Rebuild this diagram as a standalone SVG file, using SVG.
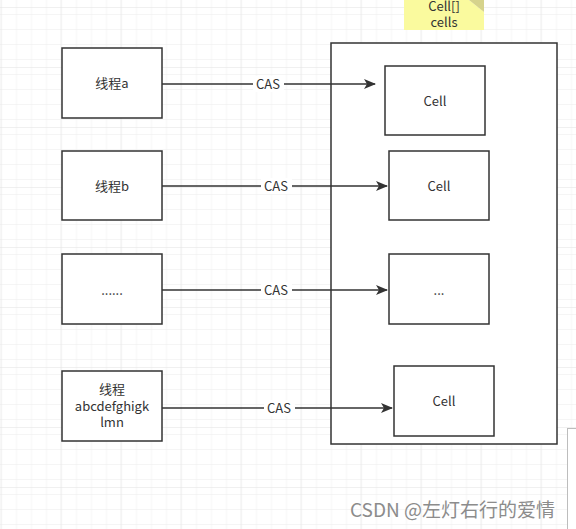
<svg xmlns="http://www.w3.org/2000/svg" width="576" height="529" viewBox="0 0 576 529">
<style>
.box{fill:#fff;stroke:#333;stroke-width:1.5}
.t{font-family:"Noto Sans CJK SC","Liberation Sans",sans-serif;font-size:13px;fill:#333;text-anchor:middle;dominant-baseline:central}
.edge{stroke:#333;stroke-width:1.5;fill:none}
.lbl{fill:#fff}
</style>
<defs>
<pattern id="minor" width="15" height="15" patternUnits="userSpaceOnUse" x="0.5" y="7">
<path d="M15 0H0V15" fill="none" stroke="#ececec" stroke-width="1"/>
</pattern>
<pattern id="major" width="60" height="60" patternUnits="userSpaceOnUse" x="0.5" y="7">
<rect width="60" height="60" fill="url(#minor)"/>
<path d="M60 0H0V60" fill="none" stroke="#e2e2e2" stroke-width="1"/>
</pattern>
<marker id="arr" markerWidth="12" markerHeight="10" refX="11" refY="5" orient="auto" markerUnits="userSpaceOnUse">
<path d="M0 0L12 5L0 10L3 5Z" fill="#333"/>
</marker>
</defs>
<rect width="576" height="529" fill="#fff"/>
<rect width="576" height="529" fill="url(#major)"/>

<g id="note">
<path d="M404 0H469L484 12V30H404Z" fill="#fafa9e"/>
<path d="M469 0L484 12V0Z" fill="#d6d38c"/>
<text class="t" x="444" y="5">Cell[]</text>
<text class="t" x="444" y="21">cells</text>
</g>

<g id="container">
<rect class="box" x="331" y="43" width="226" height="401"/>
</g>

<g id="thread-a"><rect class="box" x="62" y="48" width="100" height="70"/><text class="t" x="112" y="82">线程a</text></g>
<g id="thread-b"><rect class="box" x="62" y="151" width="100" height="69"/><text class="t" x="112" y="185">线程b</text></g>
<g id="thread-dots"><rect class="box" x="62" y="254" width="100" height="70"/><text class="t" x="112" y="289">......</text></g>
<g id="thread-n"><rect class="box" x="62" y="371" width="100" height="70"/>
<text class="t" x="112" y="388">线程</text><text class="t" x="112" y="405">abcdefghigk</text><text class="t" x="112" y="421">lmn</text></g>

<g id="cell1"><rect class="box" x="385" y="66" width="100" height="69"/><text class="t" x="435" y="100">Cell</text></g>
<g id="cell2"><rect class="box" x="389" y="151" width="100" height="69"/><text class="t" x="439" y="185">Cell</text></g>
<g id="cell3"><rect class="box" x="389" y="254" width="100" height="70"/><text class="t" x="439" y="289">...</text></g>
<g id="cell4"><rect class="box" x="394" y="366" width="100" height="70"/><text class="t" x="444" y="400">Cell</text></g>

<g id="connectors">
<line class="edge" x1="162" y1="84" x2="375" y2="84" marker-end="url(#arr)"/>
<line class="edge" x1="162" y1="186" x2="387" y2="186" marker-end="url(#arr)"/>
<line class="edge" x1="162" y1="290" x2="387" y2="290" marker-end="url(#arr)"/>
<line class="edge" x1="162" y1="408" x2="392" y2="408" marker-end="url(#arr)"/>
<rect class="lbl" x="253" y="76" width="31" height="16"/><text class="t" x="268" y="83">CAS</text>
<rect class="lbl" x="261" y="178" width="31" height="16"/><text class="t" x="276" y="185">CAS</text>
<rect class="lbl" x="261" y="282" width="31" height="16"/><text class="t" x="276" y="289">CAS</text>
<rect class="lbl" x="264" y="400" width="31" height="16"/><text class="t" x="279" y="407">CAS</text>
</g>

<rect x="567.5" y="428.5" width="20" height="110" fill="#fff" stroke="#bdbdbd" stroke-width="1"/>
<text x="350" y="517" font-family="Noto Sans CJK SC,Liberation Sans,sans-serif" font-size="19" fill="#8c8c8c">CSDN @左灯右行的爱情</text>
</svg>
